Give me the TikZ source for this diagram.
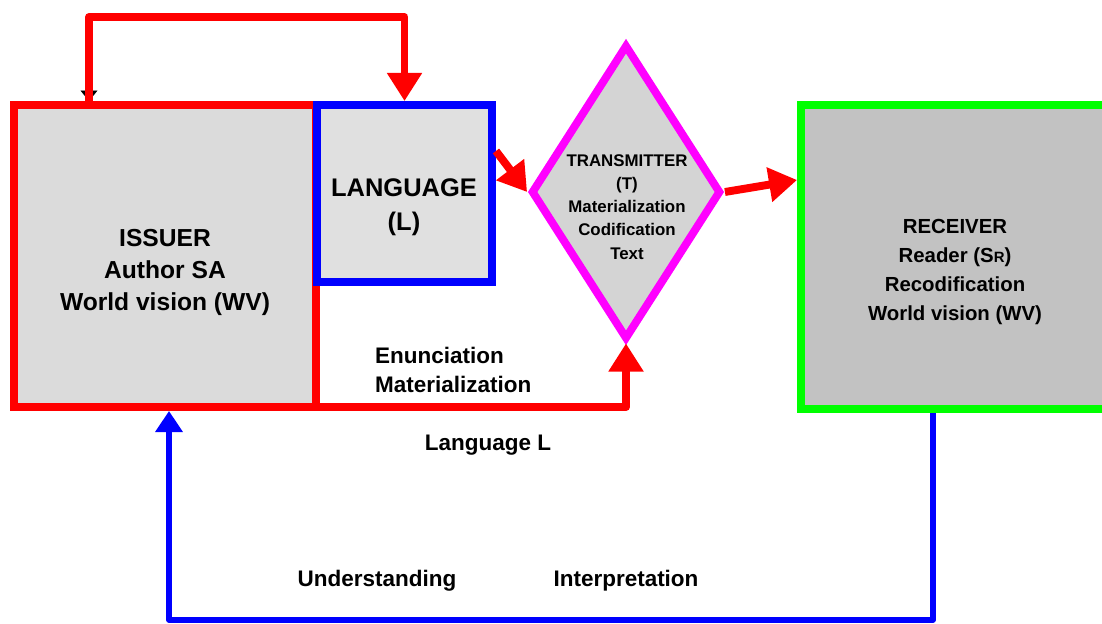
\documentclass[tikz,border=0pt]{standalone}
\usepackage{fontspec}
\setmainfont{Liberation Sans}
\usepackage{tikz}
\usetikzlibrary{arrows.meta,shapes.geometric,positioning}

\definecolor{pink}{RGB}{255,0,255}
\definecolor{lime}{RGB}{0,255,0}

\begin{document}
\begin{tikzpicture}[x=0.02cm,y=-0.02cm,
    box/.style={draw,line width=4.5pt,inner sep=0pt},
    boxtext/.style={font=\bfseries\fontsize{14}{18.2}\selectfont,align=center},
    lbl/.style={font=\bfseries\fontsize{12.8}{16.4}\selectfont,align=left},
    redpath/.style={draw=red,line width=4.5pt,line join=round},
    bluepath/.style={draw=blue,line width=3.3pt,line join=round},
    bigtip/.style={-{Triangle[width=19pt,length=16pt]}},
    bluetip/.style={-{Triangle[width=15pt,length=12pt]}}]

\clip (0,0) rectangle (1102,624);

% the three boxes and the diamond
\node[box,draw=red,fill=black!14,minimum width=6.04cm,minimum height=6.04cm] (issuer) at (165,256) {};
\node[box,draw=blue,fill=black!12,minimum width=3.5cm,minimum height=3.54cm] (lang) at (404.5,193.5) {};
\node[box,draw=pink,fill=black!17,diamond,minimum width=3.8cm,minimum height=5.9cm] (trans) at (626,192) {};
\node[box,draw=lime,fill=black!24,minimum width=6.18cm,minimum height=6.08cm] (recv) at (955.5,257) {};

\node[boxtext] (issuertext) at (165,272) {ISSUER\\Author SA\\World vision (WV)};
\node[boxtext,font=\bfseries\fontsize{14.5}{19.3}\selectfont] (langtext) at (404,207) {LANGUAGE\\(L)};
\node[boxtext,font=\bfseries\fontsize{9.6}{13.2}\selectfont] (transtext) at (627,207)
    {TRANSMITTER\\(T)\\Materialization\\Codification\\Text};
\node[boxtext,font=\bfseries\fontsize{11.6}{16.6}\selectfont] (recvtext) at (955,272)
    {RECEIVER\\Reader (S{\fontsize{8.5}{10}\selectfont R})\\Recodification\\World vision (WV)};

% loop from the issuer back into the language
\draw[-{Triangle[width=9.6pt,length=6pt]},line width=0.4pt] (89,89) -- (89,0 |- issuer.north);
\draw[redpath,bigtip] (89,0 |- issuer.north) |- (lang.north |- 0,17) -- (lang.north);

% flow towards the receiver
\draw[redpath,bigtip] (lang.east |- 0,151) -- (trans.west);
\draw[redpath,bigtip] (trans.east) -- (recv.west |- 0,180);
\draw[redpath,bigtip] (issuer.east |- 0,407) -| (trans.south);

% way back from the receiver
\draw[bluepath,bluetip] (933,0 |- recv.south) |- (169,620) -- (169,0 |- issuer.south);

\node[lbl,anchor=west] (enun) at (369,370) {Enunciation\\Materialization};
\node[lbl] (langl) at (488,445) {Language L};
\node[lbl] (under) at (377,581) {Understanding};
\node[lbl] (interp) at (626,581) {Interpretation};

\end{tikzpicture}
\end{document}
